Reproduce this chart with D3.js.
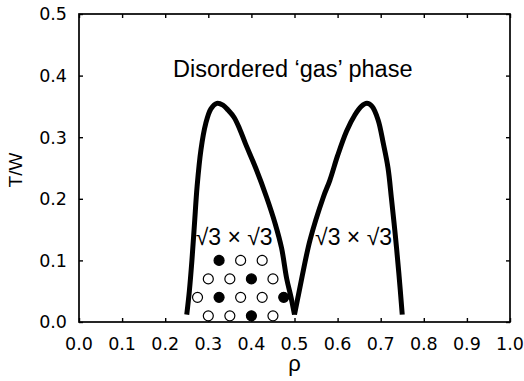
<!DOCTYPE html>
<html>
<head>
<meta charset="utf-8">
<script src="https://cdn.jsdelivr.net/npm/d3@7"></script>
<style>
  body { margin: 0; background: #fff; }
</style>
</head>
<body>
<div id="chart"></div>
<script>
// phase boundary, left dome (rho, T/W)
const leftRho = [0.250, 0.256, 0.262, 0.268, 0.274, 0.283, 0.294, 0.306, 0.320, 0.334, 0.346, 0.360, 0.373, 0.386, 0.410, 0.435, 0.455, 0.470, 0.482, 0.492, 0.500];
const leftT   = [0.012, 0.050, 0.100, 0.160, 0.220, 0.280, 0.322, 0.346, 0.355, 0.352, 0.344, 0.332, 0.313, 0.290, 0.250, 0.203, 0.160, 0.120, 0.070, 0.040, 0.012];
// right dome
const rightRho = [0.500, 0.508, 0.518, 0.536, 0.567, 0.582, 0.600, 0.621, 0.640, 0.655, 0.668, 0.680, 0.694, 0.706, 0.717, 0.725, 0.734, 0.742, 0.750];
const rightT   = [0.012, 0.040, 0.075, 0.133, 0.203, 0.230, 0.270, 0.310, 0.336, 0.350, 0.355, 0.350, 0.328, 0.290, 0.250, 0.200, 0.140, 0.080, 0.012];

// sqrt3 x sqrt3 lattice sketch
const siteRho    = [0.325, 0.375, 0.425, 0.30, 0.35, 0.40, 0.45, 0.275, 0.325, 0.375, 0.425, 0.475, 0.30, 0.35, 0.40, 0.45];
const siteT      = [0.100, 0.100, 0.100, 0.07, 0.07, 0.07, 0.07, 0.040, 0.040, 0.040, 0.040, 0.040, 0.01, 0.01, 0.01, 0.01];
const siteFilled = [true,  false, false, false, false, true, false, false, true, false, false, true, false, false, true, false];

const rhoTicks = [0.0, 0.1, 0.2, 0.3, 0.4, 0.5, 0.6, 0.7, 0.8, 0.9, 1.0];
const tTicks   = [0.0, 0.1, 0.2, 0.3, 0.4, 0.5];

const width = 524, height = 381;
const margin = { top: 14, right: 14, bottom: 59, left: 79 };
const innerWidth = width - margin.left - margin.right;
const innerHeight = height - margin.top - margin.bottom;
const font = "'Liberation Sans', Arial, Helvetica, sans-serif";
const tickFont = "'DejaVu Sans', 'Liberation Sans', sans-serif";

const svg = d3.select("#chart").append("svg")
  .attr("width", width)
  .attr("height", height)
  .attr("font-family", font);
const g = svg.append("g").attr("transform", `translate(${margin.left},${margin.top})`);

const x = d3.scaleLinear().domain([0, 1]).range([0, innerWidth]);
const y = d3.scaleLinear().domain([0, 0.5]).range([innerHeight, 0]);

// tick marks only (inward, on all four sides); labels are drawn below
function ticksOnly(sel) {
  sel.select(".domain").remove();
  sel.selectAll(".tick text").remove();
  sel.selectAll(".tick line").attr("stroke", "#000").attr("stroke-width", 1.4);
}
g.append("g").attr("transform", `translate(0,${innerHeight})`)
  .call(d3.axisBottom(x).tickValues(rhoTicks).tickSize(-4)).call(ticksOnly);
g.append("g")
  .call(d3.axisLeft(y).tickValues(tTicks).tickSize(-4)).call(ticksOnly);
g.append("g")
  .call(d3.axisTop(x).tickValues(rhoTicks).tickSize(-4)).call(ticksOnly);
g.append("g").attr("transform", `translate(${innerWidth},0)`)
  .call(d3.axisRight(y).tickValues(tTicks).tickSize(-4)).call(ticksOnly);

const fmt = d3.format(".1f");
g.selectAll("text.xlab").data(rhoTicks).join("text")
  .attr("class", "xlab")
  .attr("x", d => x(d))
  .attr("y", innerHeight + 28)
  .attr("text-anchor", "middle")
  .style("font-family", tickFont)
  .style("font-size", "17.5px")
  .text(fmt);
g.selectAll("text.ylab").data(tTicks).join("text")
  .attr("class", "ylab")
  .attr("x", -12)
  .attr("y", d => y(d) + 6.3)
  .attr("text-anchor", "end")
  .style("font-family", tickFont)
  .style("font-size", "17.5px")
  .text(fmt);

g.append("rect")
  .attr("width", innerWidth).attr("height", innerHeight)
  .attr("fill", "none").attr("stroke", "#000").attr("stroke-width", 1.7);

const line = d3.line()
  .x(d => x(d[0]))
  .y(d => y(d[1]))
  .curve(d3.curveCatmullRom.alpha(0.5));

[[leftRho, leftT], [rightRho, rightT]].forEach(([r, t]) => {
  g.append("path")
    .datum(r.map((v, i) => [v, t[i]]))
    .attr("d", line)
    .attr("fill", "none")
    .attr("stroke", "#000")
    .attr("stroke-width", 5)
    .attr("stroke-linejoin", "round");
});

g.selectAll("circle.site")
  .data(siteRho.map((v, i) => ({ rho: v, t: siteT[i], filled: siteFilled[i] })))
  .join("circle")
  .attr("class", "site")
  .attr("cx", d => x(d.rho))
  .attr("cy", d => y(d.t))
  .attr("r", 5)
  .attr("fill", d => d.filled ? "#000" : "#fff")
  .attr("stroke", "#000")
  .attr("stroke-width", 1.2);

// labels
g.append("text")
  .attr("x", x(0.496)).attr("y", 63)
  .attr("text-anchor", "middle").attr("font-size", 23.5)
  .text("Disordered \u2018gas\u2019 phase");

g.append("text")
  .attr("x", x(0.36)).attr("y", 231)
  .attr("text-anchor", "middle").attr("font-size", 23)
  .text("\u221A3 \u00D7 \u221A3");
g.append("text")
  .attr("x", x(0.637)).attr("y", 231)
  .attr("text-anchor", "middle").attr("font-size", 23)
  .text("\u221A3 \u00D7 \u221A3");

svg.append("text")
  .attr("x", margin.left + x(0.5)).attr("y", 371)
  .attr("text-anchor", "middle").attr("font-size", 22)
  .text("\u03C1");

svg.append("text")
  .attr("transform", "translate(22,170) rotate(-90)")
  .attr("text-anchor", "middle").attr("font-size", 19)
  .text("T/W");
</script>
</body>
</html>
